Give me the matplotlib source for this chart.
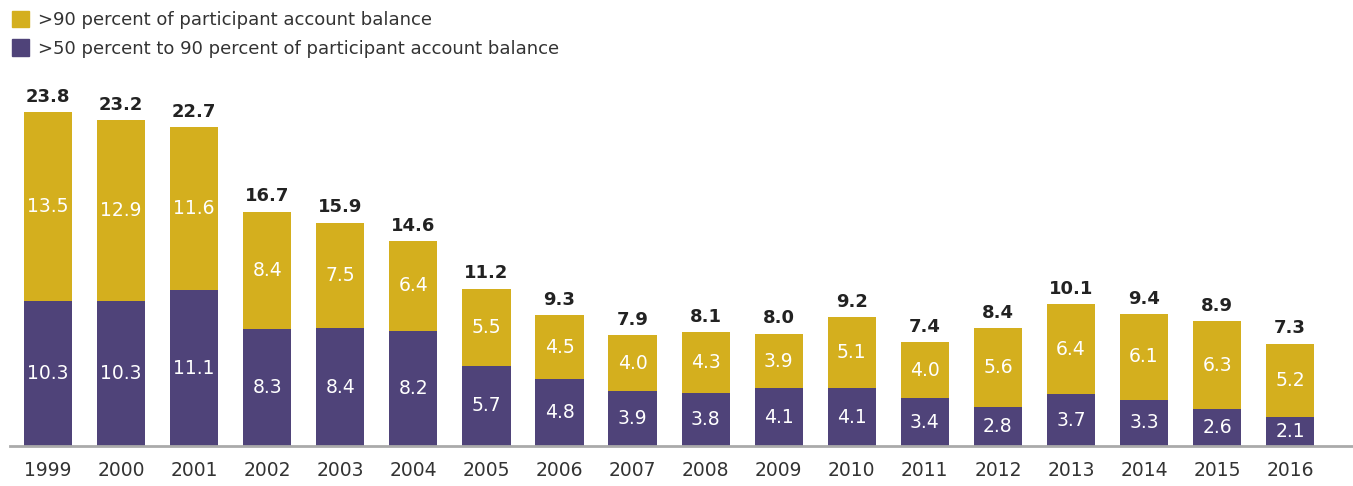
import matplotlib
matplotlib.use('Agg')
from matplotlib import pyplot as plt
from matplotlib.patches import Patch
import numpy as np

# data
years = ['1999', '2000', '2001', '2002', '2003', '2004', '2005', '2006', '2007',
         '2008', '2009', '2010', '2011', '2012', '2013', '2014', '2015', '2016']
mid = [10.3, 10.3, 11.1, 8.3, 8.4, 8.2, 5.7, 4.8, 3.9,
       3.8, 4.1, 4.1, 3.4, 2.8, 3.7, 3.3, 2.6, 2.1]
high = [13.5, 12.9, 11.6, 8.4, 7.5, 6.4, 5.5, 4.5, 4.0,
        4.3, 3.9, 5.1, 4.0, 5.6, 6.4, 6.1, 6.3, 5.2]
totals = [23.8, 23.2, 22.7, 16.7, 15.9, 14.6, 11.2, 9.3, 7.9,
          8.1, 8.0, 9.2, 7.4, 8.4, 10.1, 9.4, 8.9, 7.3]

gold = '#D4AF1E'
purple = '#4F4379'

plt.rcParams['font.family'] = ['DejaVu Sans']

fig = plt.figure(figsize=(13.53, 4.86), dpi=100)
ax = fig.add_axes([0.0074, 0.0823, 0.9926, 0.78])

x = np.arange(len(years))
w = 0.66

ax.bar(x, mid, width=w, color=purple)
ax.bar(x, high, width=w, bottom=mid, color=gold)

# segment labels
for i in range(len(years)):
    ax.text(x[i], mid[i] / 2, f'{mid[i]:.1f}', ha='center', va='center',
            color='white', fontsize=13.5)
    ax.text(x[i], mid[i] + high[i] / 2, f'{high[i]:.1f}', ha='center', va='center',
            color='white', fontsize=13.5)
    ax.text(x[i], totals[i] + 0.45, f'{totals[i]:.1f}', ha='center', va='bottom',
            color='#222222', fontsize=13, fontweight='bold')

ax.set_xlim(-0.52, 17.86)
ax.set_ylim(0, 27)
ax.set_xticks(x)
ax.set_xticklabels(years, fontsize=13.5, color='#333333')
ax.tick_params(axis='x', length=0, pad=11)
ax.set_yticks([])
for s in ['top', 'right', 'left']:
    ax.spines[s].set_visible(False)
ax.spines['bottom'].set_color('#AAAAAA')
ax.spines['bottom'].set_linewidth(2)

handles = [Patch(color=gold, label='>90 percent of participant account balance'),
           Patch(color=purple, label='>50 percent to 90 percent of participant account balance')]
fig.legend(handles=handles, loc='upper left', bbox_to_anchor=(0.0085, 0.978),
           frameon=False, fontsize=13, handlelength=0.95, handleheight=1.05,
           handletextpad=0.5, labelspacing=0.55, labelcolor='#333333',
           borderaxespad=0, borderpad=0)

fig.savefig('out.png', dpi=100)
